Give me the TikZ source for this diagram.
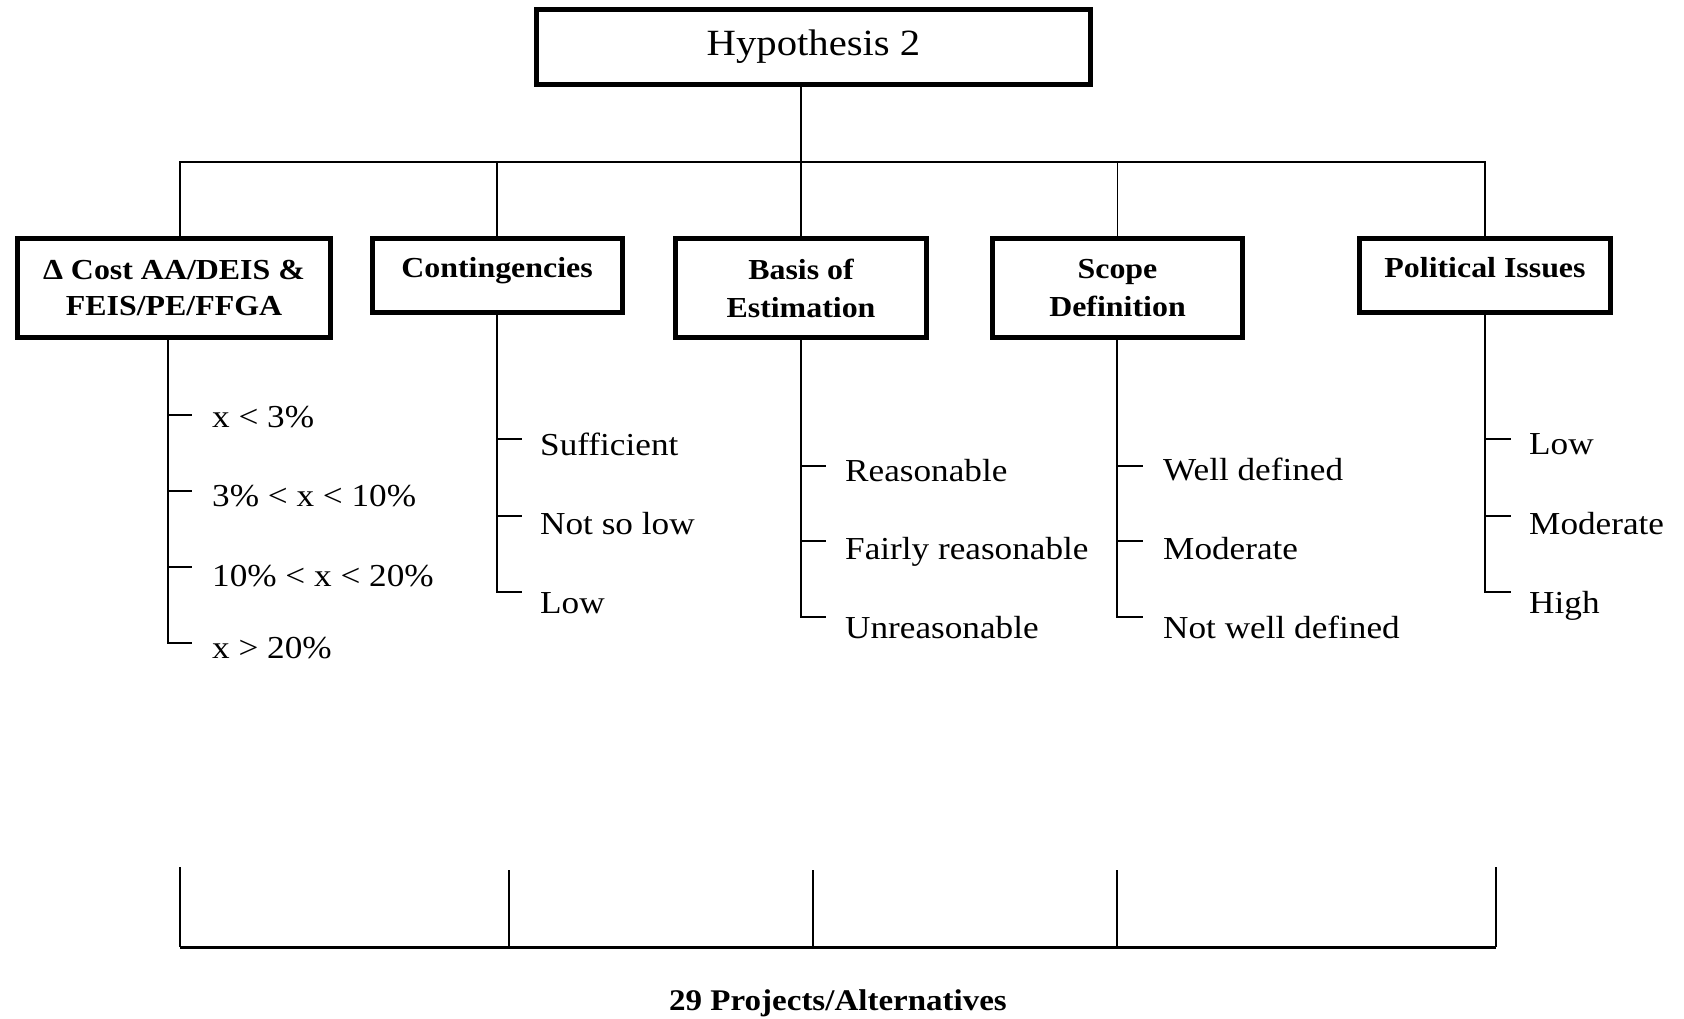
\documentclass[tikz,border=0pt]{standalone}
\usepackage{fontspec}
\setmainfont{Liberation Serif}[FakeStretch=1.1]
\usetikzlibrary{calc}
\begin{document}
\begin{tikzpicture}[x=1pt,y=-1pt,
  conn/.style={line width=1.8pt},
  boxnode/.style={draw, line width=5pt, rectangle, align=center, inner sep=4pt,
    font=\fontsize{29}{38}\bfseries\selectfont},
  single/.style={text height=20pt, text depth=17pt},
  sub/.style={anchor=base west, inner sep=0pt, font=\fontsize{32}{38}\selectfont},
]
\useasboundingbox (0,0) rectangle (1684,1019);

% top node
\node[draw, line width=5pt, minimum width=554pt, minimum height=75pt, inner sep=0pt,
  font=\fontsize{37}{44}\selectfont] (h) at (813.5,47) {Hypothesis 2};

% criteria boxes
\node[boxnode, minimum width=313pt, minimum height=99pt,
  font=\fontsize{29}{36}\bfseries\selectfont] (b1) at (174,288) {Δ Cost AA/DEIS \&\\FEIS/PE/FFGA};
\node[boxnode, single, minimum width=250pt, minimum height=74pt] (b2) at (497,275.5) {Contingencies};
\node[boxnode, minimum width=251pt, minimum height=99pt] (b3) at (801,288) {Basis of\\Estimation};
\node[boxnode, minimum width=250pt, minimum height=99pt] (b4) at (1117.5,288) {Scope\\Definition};
\node[boxnode, single, minimum width=251.5pt, minimum height=74pt] (b5) at (1485,275.5) {Political Issues};

% distribution bus
\coordinate (bus) at (0,162);
\coordinate (d1) at ($(b1.north)+(6,0)$);
\draw[conn] (h.south -| b3.north) -- (b3.north);
\draw[conn] (d1) -- (d1 |- bus) -- (b5.north |- bus) -- (b5.north);
\draw[conn] (b2.north) -- (b2.north |- bus);
\draw[conn] (b4.north) -- (b4.north |- bus);

% column 1: tick y / label baseline / label
\coordinate (c1) at ($(b1.south)+(-6,0)$);
\draw[conn] (c1) -- (c1 |- 0,643) -- ++(24,0);
\foreach \y/\b/\t [count=\i] in {415/427/{x < 3\%}, 491/506/{3\% < x < 10\%}, 567/586/{10\% < x < 20\%}, 643/658/{x > 20\%}} {
  \coordinate (t1\i) at (c1 |- 0,\y);
  \node[sub] (s1\i) at ($(t1\i |- 0,\b)+(44,0)$) {\t};
  \draw[conn] (t1\i) -- ++(24,0);
}

% column 2
\draw[conn] (b2.south) -- (b2.south |- 0,592) -- ++(25,0);
\foreach \y/\b/\t [count=\i] in {439/455/Sufficient, 516/534/Not so low, 592/613/Low} {
  \coordinate (t2\i) at (b2.south |- 0,\y);
  \node[sub] (s2\i) at ($(t2\i |- 0,\b)+(43,0)$) {\t};
  \draw[conn] (t2\i) -- ++(25,0);
}

% column 3
\draw[conn] (b3.south) -- (b3.south |- 0,617) -- ++(25,0);
\foreach \y/\b/\t [count=\i] in {466/481/Reasonable, 541/559/Fairly reasonable, 617/638/Unreasonable} {
  \coordinate (t3\i) at (b3.south |- 0,\y);
  \node[sub] (s3\i) at ($(t3\i |- 0,\b)+(44,0)$) {\t};
  \draw[conn] (t3\i) -- ++(25,0);
}

% column 4
\coordinate (c4) at ($(b4.south)+(-0.5,0)$);
\draw[conn] (c4) -- (c4 |- 0,617) -- ++(26,0);
\foreach \y/\b/\t [count=\i] in {466/480/Well defined, 541/559/Moderate, 617/638/Not well defined} {
  \coordinate (t4\i) at (c4 |- 0,\y);
  \node[sub] (s4\i) at ($(t4\i |- 0,\b)+(46,0)$) {\t};
  \draw[conn] (t4\i) -- ++(26,0);
}

% column 5
\draw[conn] (b5.south) -- (b5.south |- 0,592) -- ++(26,0);
\foreach \y/\b/\t [count=\i] in {439/454/Low, 516/534/Moderate, 592/613/High} {
  \coordinate (t5\i) at (b5.south |- 0,\y);
  \node[sub] (s5\i) at ($(t5\i |- 0,\b)+(44,0)$) {\t};
  \draw[conn] (t5\i) -- ++(26,0);
}

% projects baseline
\coordinate (p1) at (180,867);
\coordinate (p2) at (509,870);
\coordinate (p3) at (813,870);
\coordinate (p4) at (1117,870);
\coordinate (p5) at (1496,867);
\coordinate (base) at (0,947);
\foreach \p in {p1,p2,p3,p4,p5} {
  \draw[conn] (\p) -- (\p |- base);
}
\draw[line width=3pt] (p1 |- base) -- (p5 |- base);
\node[anchor=base, inner sep=0pt, font=\fontsize{30}{36}\bfseries\selectfont] (proj) at (838,1010) {29 Projects/Alternatives};
\end{tikzpicture}
\end{document}
